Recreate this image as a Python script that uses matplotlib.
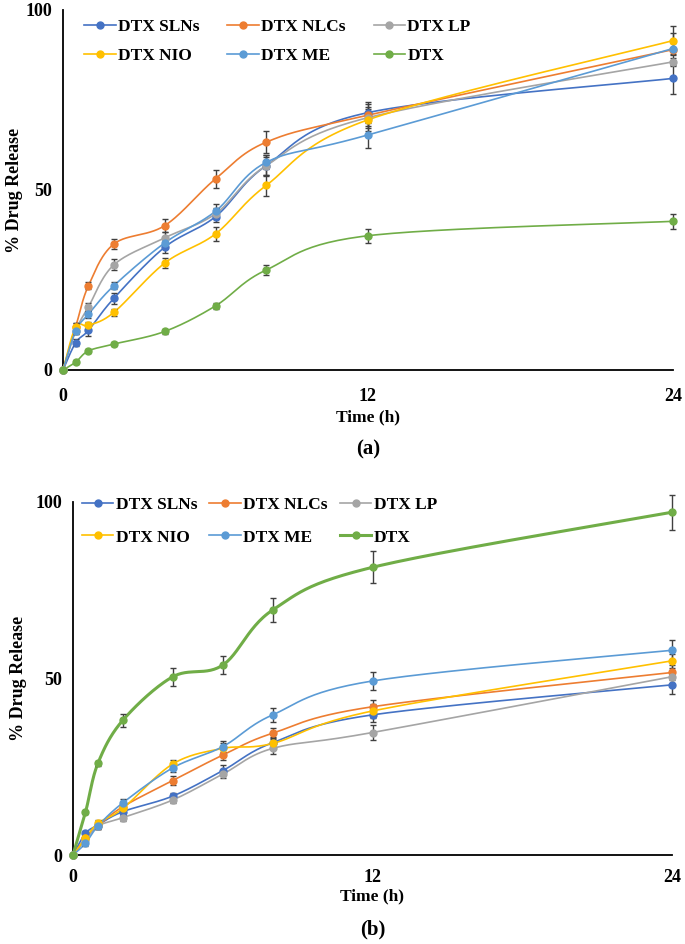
import numpy as np
import matplotlib
matplotlib.use("Agg")
import matplotlib.pyplot as plt
from matplotlib.lines import Line2D

plt.rcParams['font.family'] = ['Liberation Serif', 'DejaVu Serif']
plt.rcParams['font.weight'] = 'bold'

# sampling times (h)
time_h = [0, 0.5, 1, 2, 4, 6, 8, 12, 24]

names = ["DTX SLNs", "DTX NLCs", "DTX LP", "DTX NIO", "DTX ME", "DTX"]
colors = ["#4472C4", "#ED7D31", "#A5A5A5", "#FFC000", "#5B9BD5", "#70AD47"]

# panel (a) release %
a_slns = [0, 7.6, 11.0, 19.9, 34.1, 42.6, 56.8, 71.5, 81.0]
a_nlcs = [0, 12.0, 23.4, 35.0, 40.1, 53.1, 63.3, 70.8, 89.0]
a_lp = [0, 10.9, 17.5, 29.2, 36.7, 43.4, 56.8, 70.1, 85.6]
a_nio = [0, 12.0, 12.4, 16.0, 29.7, 37.8, 51.3, 69.5, 91.5]
a_me = [0, 10.9, 15.5, 23.4, 35.3, 44.1, 57.7, 65.3, 89.3]
a_dtx = [0, 2.2, 5.3, 7.2, 10.7, 17.8, 27.8, 37.3, 41.3]

a_slns_err = [0, 1.0, 1.5, 1.5, 1.5, 1.5, 3.0, 3.0, 4.4]
a_nlcs_err = [0, 1.0, 1.0, 1.5, 1.8, 2.5, 3.0, 3.0, 4.5]
a_lp_err = [0, 1.0, 1.0, 1.5, 1.5, 1.5, 2.5, 3.0, 1.0]
a_nio_err = [0, 1.0, 1.0, 1.0, 1.5, 2.0, 3.0, 3.0, 4.0]
a_me_err = [0, 1.0, 1.0, 1.0, 1.5, 2.0, 2.0, 3.5, 1.5]
a_dtx_err = [0, 0.5, 0.5, 0.5, 0.7, 0.8, 1.3, 2.0, 2.0]

# panel (b) release %
b_slns = [0, 6.1, 8.5, 12.3, 16.7, 23.9, 31.8, 39.7, 48.2]
b_nlcs = [0, 4.7, 8.2, 13.7, 21.1, 28.3, 34.5, 42.0, 51.7]
b_lp = [0, 4.2, 8.2, 10.6, 15.6, 22.9, 30.2, 34.7, 50.5]
b_nio = [0, 4.7, 9.0, 13.2, 25.8, 30.2, 31.6, 40.8, 55.0]
b_me = [0, 3.3, 8.2, 14.8, 24.7, 30.7, 39.7, 49.3, 58.0]
b_dtx = [0, 12.1, 26.0, 38.2, 50.5, 53.8, 69.4, 81.5, 97.1]

b_slns_err = [0, 0.8, 0.8, 1.0, 1.0, 1.5, 1.5, 2.0, 2.5]
b_nlcs_err = [0, 0.8, 0.8, 1.0, 1.2, 1.5, 1.5, 2.0, 2.0]
b_lp_err = [0, 0.8, 0.8, 1.0, 1.0, 1.2, 1.5, 2.0, 2.0]
b_nio_err = [0, 0.8, 0.8, 1.0, 1.2, 1.5, 1.5, 2.0, 2.0]
b_me_err = [0, 0.8, 0.8, 1.0, 1.2, 1.5, 2.0, 2.5, 3.0]
b_dtx_err = [0, 0.5, 0.7, 1.8, 2.5, 2.5, 3.5, 4.5, 5.0]


def smooth(x, y, n=30):
    # excel-like smoothed line: cubic bezier through points
    x = np.asarray(x, float)
    y = np.asarray(y, float)
    xs, ys = [x[0]], [y[0]]
    t = np.linspace(0, 1, n)[1:]
    for i in range(len(x) - 1):
        i0 = max(i - 1, 0)
        i3 = min(i + 2, len(x) - 1)
        c1x = x[i] + (x[i + 1] - x[i0]) / 6
        c1y = y[i] + (y[i + 1] - y[i0]) / 6
        c2x = x[i + 1] - (x[i3] - x[i]) / 6
        c2y = y[i + 1] - (y[i3] - y[i]) / 6
        bx = ((1 - t) ** 3 * x[i] + 3 * (1 - t) ** 2 * t * c1x
              + 3 * (1 - t) * t ** 2 * c2x + t ** 3 * x[i + 1])
        by = ((1 - t) ** 3 * y[i] + 3 * (1 - t) ** 2 * t * c1y
              + 3 * (1 - t) * t ** 2 * c2y + t ** 3 * y[i + 1])
        xs.extend(bx)
        ys.extend(by)
    return np.array(xs), np.array(ys)


def draw_panel(ax, series, errors, widths, label, leg_anchor, colspace, rowspace,
               ylab_x, label_y, xpad, xlabpad):
    for vals, errs, c, lw in zip(series, errors, colors, widths):
        sx, sy = smooth(time_h, vals)
        ax.plot(sx, sy, color=c, lw=lw, clip_on=False, zorder=3)
        ax.errorbar(time_h, vals, yerr=errs, fmt='none', ecolor='#404040',
                    elinewidth=1.0, capsize=2.5, capthick=1.0, zorder=4, clip_on=False)
        ax.plot(time_h, vals, 'o', color=c, ms=5, clip_on=False, zorder=5)

    ax.set_xlim(0, 24)
    ax.set_ylim(0, 100)
    ax.set_xticks([0, 12, 24])
    ax.set_yticks([0, 50, 100])
    ax.tick_params(length=0, labelsize=13)
    ax.tick_params(axis='x', pad=xpad)
    ax.tick_params(axis='y', pad=8)
    for lab in ax.get_xticklabels() + ax.get_yticklabels():
        lab.set_fontweight('bold')
    for s in ['top', 'right']:
        ax.spines[s].set_visible(False)
    for s in ['left', 'bottom']:
        ax.spines[s].set_linewidth(1.3)
        ax.spines[s].set_color('black')

    ax.set_ylabel("% Drug Release", fontsize=13, fontweight='bold')
    ax.yaxis.set_label_coords(ylab_x, 0.5)
    ax.set_xlabel("Time (h)", fontsize=12.5, fontweight='bold', labelpad=xlabpad)
    ax.text(0.5, label_y, label, transform=ax.transAxes, ha='center', va='center',
            fontsize=15, fontweight='bold')

    handles = [Line2D([], [], color=c, lw=lw, marker='o', ms=5)
               for c, lw in zip(colors, widths)]
    # order so columns read SLNs/NIO, NLCs/ME, LP/DTX
    order = [0, 3, 1, 4, 2, 5]
    ax.legend([handles[i] for i in order], [names[i] for i in order],
              ncol=3, loc='upper left', bbox_to_anchor=leg_anchor, frameon=False,
              handlelength=1.8, handletextpad=0.15,
              labelspacing=rowspace, columnspacing=colspace, borderpad=0,
              borderaxespad=0, prop={'weight': 'bold', 'size': 12.5})


fig = plt.figure(figsize=(6.85, 9.44), dpi=100)
ax1 = fig.add_axes([63 / 685, 1 - 370 / 944, 610 / 685, 360 / 944])
ax2 = fig.add_axes([73 / 685, 1 - 855 / 944, 599 / 685, 353 / 944])

draw_panel(ax1,
           [a_slns, a_nlcs, a_lp, a_nio, a_me, a_dtx],
           [a_slns_err, a_nlcs_err, a_lp_err, a_nio_err, a_me_err, a_dtx_err],
           [1.2] * 6, "(a)", (0.035, 0.975), 1.6, 0.72, -0.066, -0.222, 13, 3)
draw_panel(ax2,
           [b_slns, b_nlcs, b_lp, b_nio, b_me, b_dtx],
           [b_slns_err, b_nlcs_err, b_lp_err, b_nio_err, b_me_err, b_dtx_err],
           [1.2] * 5 + [2.2], "(b)", (0.015, 1.015), 0.7, 0.95, -0.077, -0.212, 10, 2)

fig.savefig("out.png", dpi=100)
